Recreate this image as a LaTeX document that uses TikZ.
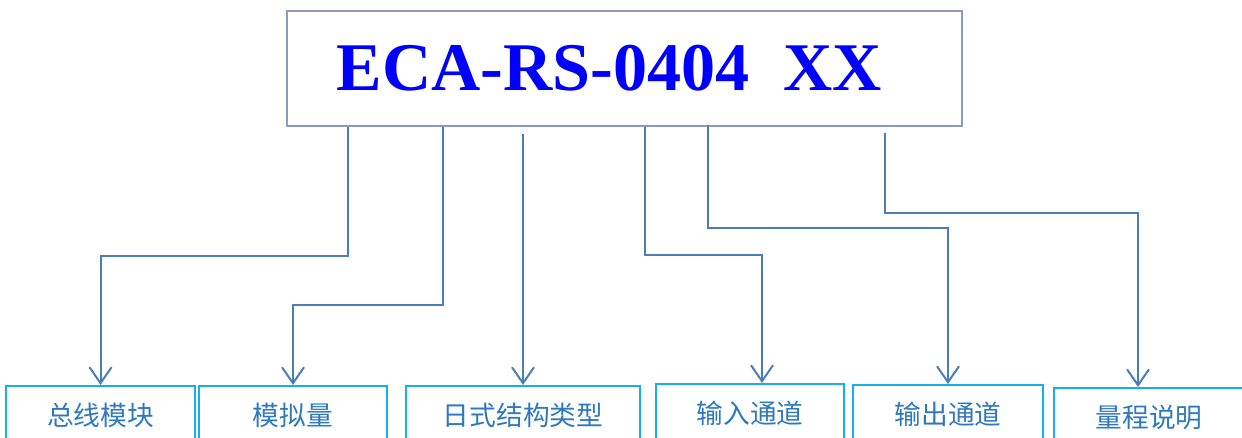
\documentclass[tikz,border=0pt]{standalone}
\usepackage{fontspec}
\setmainfont{Liberation Serif}
\newfontfamily\cjk{Noto Sans CJK SC}
\usetikzlibrary{arrows.meta, positioning}

\definecolor{codeblue}{RGB}{0,0,255}
\definecolor{framegray}{RGB}{140,155,188}
\definecolor{fieldcyan}{RGB}{20,176,238}
\definecolor{labelblue}{RGB}{46,120,190}
\definecolor{linkblue}{RGB}{74,126,187}

\begin{document}
\begin{tikzpicture}[
    x=0.025cm, y=-0.025cm, % one unit is one pixel of the sketch
    every node/.style={draw, align=center},
    codebox/.style={rectangle, draw=framegray, line width=0.05cm, minimum width=16.875cm, minimum height=2.875cm, text=codeblue, font=\fontsize{48.5pt}{50pt}\selectfont\bfseries},
    field/.style={rectangle, draw=fieldcyan, line width=0.05cm, minimum height=1.45cm, anchor=north, text=labelblue, font=\cjk\fontsize{19pt}{22pt}\selectfont},
    line/.style={draw=linkblue, line width=0.05cm, -{Straight Barb[length=0.4cm, width=0.55cm]}} % open arrow heads
]
\useasboundingbox (0,0) rectangle (1242,438);

% Model code
\node[codebox] (code) at (624.5,68.5) {ECA-RS-0404\ \ XX\hspace*{0.75cm}};

% Fields of the code
\node[field, minimum width=4.725cm] (bus) at (100.5,385) {总线模块};
\node[field, minimum width=4.7cm] (analog) at (293,385) {模拟量};
\node[field, minimum width=5.85cm] (struct) at (523,385) {日式结构类型};
\node[field, minimum width=4.7cm] (input) at (750,383) {输入通道};
\node[field, minimum width=4.75cm] (output) at (948,384) {输出通道};
\node[field, minimum width=4.75cm] (range) at (1149,387) {量程说明};

% Knees of the connectors
\coordinate (busknee) at (348,256);
\coordinate (analogknee) at (443,305);
\coordinate (inknee) at (645,255);
\coordinate (outknee) at (708,228);
\coordinate (rangeknee) at (885,213);
\coordinate (indrop) at (762,0); % where the arrow meets the input box
\coordinate (rangedrop) at (1138,0);

% Arrows
\path[line] (code.south -| busknee) -- (busknee) -| (bus.north);
\path[line] (code.south -| analogknee) -- (analogknee) -| (analog.north);
\path[line] (code.south -| struct.north) ++(0,7) -- (struct.north);
\path[line] (code.south -| inknee) -- (inknee) -| (input.north -| indrop);
\path[line] (code.south -| outknee) ++(0,-2) -- (outknee) -| (output.north);
\path[line] (code.south -| rangeknee) ++(0,6) -- (rangeknee) -| (range.north -| rangedrop);

\end{tikzpicture}
\end{document}
